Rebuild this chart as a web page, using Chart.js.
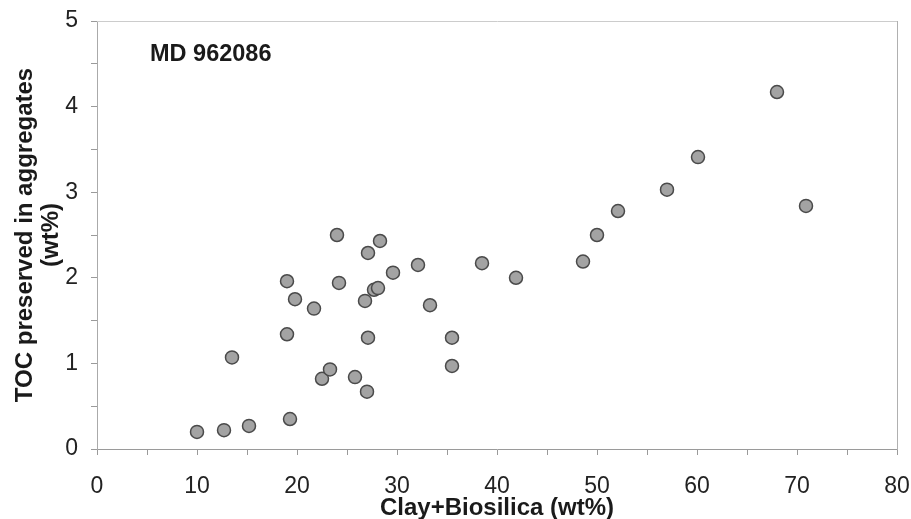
<!DOCTYPE html>
<html>
<head>
<meta charset="utf-8">
<script src="https://cdn.jsdelivr.net/npm/chart.js@4"></script>
<style>
  html, body { margin: 0; padding: 0; background: #fff; }
  #wrap { width: 911px; height: 519px; }
</style>
</head>
<body>
<div id="wrap"><canvas id="chart"></canvas></div>
<script>
/* Clay+Biosilica vs TOC en agregados — MD 962086 */

const CLAY_BIOSILICA = [
    10.0, 12.7, 15.2, 19.3, 13.5, 19.0, 19.0, 19.8, 21.7, 22.5,
    23.3, 24.2, 25.8, 27.0, 27.1, 26.8, 27.7, 28.1, 29.6, 32.1,
    33.3, 35.5, 35.5, 24.0, 28.3, 27.1, 38.5, 41.9, 48.6, 50.0,
    52.1, 57.0, 60.1, 68.0, 70.9
];
const TOC_AGREGADOS = [
    0.20, 0.22, 0.27, 0.35, 1.07, 1.34, 1.96, 1.75, 1.64, 0.82,
    0.93, 1.94, 0.84, 0.67, 1.30, 1.73, 1.86, 1.88, 2.06, 2.15,
    1.68, 1.30, 0.97, 2.50, 2.43, 2.29, 2.17, 2.00, 2.19, 2.50,
    2.78, 3.03, 3.41, 4.17, 2.84
];

const X_TICKS = [0, 10, 20, 30, 40, 50, 60, 70, 80];
const Y_TICKS = [0, 1, 2, 3, 4, 5];
const ETIQUETA = "MD 962086";

const puntos = CLAY_BIOSILICA.map((x, i) => ({ x, y: TOC_AGREGADOS[i] }));

const fuente = "'Liberation Sans', Arial, sans-serif";

/* texto dentro del área del gráfico */
const etiquetaPlugin = {
    id: "etiqueta",
    afterDatasetsDraw(chart) {
        const { ctx, scales } = chart;
        ctx.save();
        ctx.font = "bold 23.5px " + fuente;
        ctx.fillStyle = "#1a1a1a";
        ctx.textBaseline = "middle";
        ctx.textAlign = "left";
        ctx.fillText(ETIQUETA, scales.x.getPixelForValue(5.3), scales.y.getPixelForValue(4.61));
        ctx.restore();
    }
};

new Chart(document.getElementById("chart"), {
    type: "scatter",
    data: {
        datasets: [{
            data: puntos,
            pointRadius: 6.5,
            pointHoverRadius: 6.5,
            pointBackgroundColor: "#a3a3a3",
            pointBorderColor: "#4a4a4a",
            pointBorderWidth: 1.5
        }]
    },
    options: {
        responsive: true,
        maintainAspectRatio: false,
        animation: false,
        layout: { padding: { top: 21, right: 0, bottom: 0, left: 12 } },
        plugins: {
            legend: { display: false },
            tooltip: { enabled: false }
        },
        scales: {
            x: {
                type: "linear",
                min: 0,
                max: 80,
                afterBuildTicks: (axis) => {
                    const t = [];
                    for (let v = 0; v <= 80; v += 5) t.push({ value: v });
                    axis.ticks = t;
                },
                afterFit: (axis) => {
                    axis.height = 70;
                    axis.paddingLeft = 0;
                    axis.paddingRight = 14;
                },
                ticks: {
                    color: "#222",
                    font: { family: fuente, size: 23 },
                    padding: 18,
                    maxRotation: 0,
                    autoSkip: false,
                    callback: (v) => X_TICKS.includes(v) ? String(v) : ""
                },
                grid: { drawOnChartArea: false, drawTicks: true, tickLength: 6, color: "#9a9a9a" },
                border: { color: "#9a9a9a", width: 1 },
                title: {
                    display: true,
                    text: "Clay+Biosilica (wt%)",
                    color: "#1a1a1a",
                    font: { family: fuente, size: 24, weight: "bold" },
                    padding: { top: 0, bottom: -4 }
                }
            },
            y: {
                type: "linear",
                min: 0,
                max: 5,
                afterBuildTicks: (axis) => {
                    const t = [];
                    for (let v = 0; v <= 5; v += 0.5) t.push({ value: v });
                    axis.ticks = t;
                },
                afterFit: (axis) => {
                    axis.width = 85;
                    axis.paddingTop = 0;
                    axis.paddingBottom = 0;
                },
                ticks: {
                    color: "#222",
                    font: { family: fuente, size: 23 },
                    padding: 13,
                    autoSkip: false,
                    callback: (v) => Y_TICKS.includes(v) ? String(v) : ""
                },
                grid: { drawOnChartArea: false, drawTicks: true, tickLength: 6, color: "#9a9a9a" },
                border: { color: "#aaaaaa", width: 1, dash: [2, 1] },
                title: {
                    display: true,
                    text: ["TOC preserved in aggregates", "(wt%)"],
                    color: "#1a1a1a",
                    font: { family: fuente, size: 24, weight: "bold", lineHeight: 1.08 },
                    padding: { top: 0, bottom: 0 }
                }
            },
            xArriba: {
                type: "linear",
                position: "top",
                min: 0,
                max: 80,
                ticks: { display: false },
                grid: { display: false, drawTicks: false },
                border: { color: "#cccccc", width: 1, dash: [2, 2] }
            },
            yDerecha: {
                type: "linear",
                position: "right",
                min: 0,
                max: 5,
                ticks: { display: false },
                grid: { display: false, drawTicks: false },
                border: { color: "#b0b0b0", width: 1, dash: [2, 2] }
            }
        }
    },
    plugins: [etiquetaPlugin]
});
</script>
</body>
</html>
